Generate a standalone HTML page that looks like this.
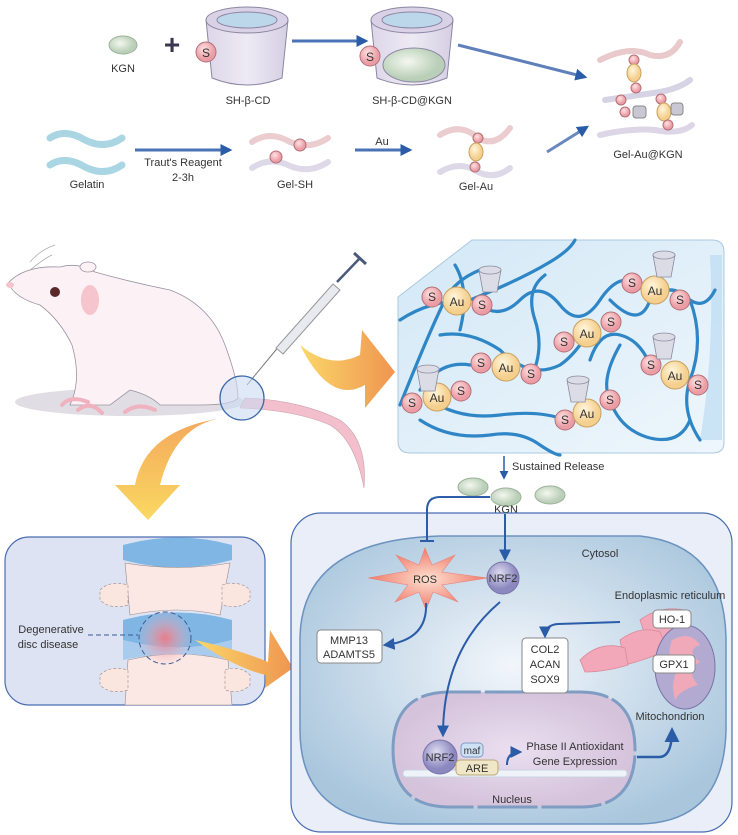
<!DOCTYPE html>
<html><head><meta charset="utf-8"><style>
html,body{margin:0;padding:0;background:#fff;}
svg{display:block;font-family:"Liberation Sans",Arial,sans-serif;}
</style></head><body>
<svg width="738" height="835" viewBox="0 0 738 835" xmlns="http://www.w3.org/2000/svg">
<defs>
<linearGradient id="cup" x1="0" x2="1"><stop offset="0" stop-color="#dcd6e8"/><stop offset="0.5" stop-color="#eeeaf4"/><stop offset="1" stop-color="#d4cfe2"/></linearGradient>
<radialGradient id="kgn" cx="0.4" cy="0.4"><stop offset="0" stop-color="#f4f7ee"/><stop offset="1" stop-color="#b9cfb8"/></radialGradient>
<linearGradient id="gel" x1="0" x2="1" y1="0" y2="1"><stop offset="0" stop-color="#d3e8f6"/><stop offset="1" stop-color="#eef6fc"/></linearGradient>
<linearGradient id="orng" x1="0" x2="1"><stop offset="0" stop-color="#fbd76a"/><stop offset="1" stop-color="#ef9550"/></linearGradient>
<linearGradient id="yel" x1="0" x2="0" y1="0" y2="1"><stop offset="0" stop-color="#f3a85c"/><stop offset="1" stop-color="#fbd862"/></linearGradient>
<radialGradient id="cell" cx="0.5" cy="0.45" r="0.6"><stop offset="0" stop-color="#f2f6fb"/><stop offset="1" stop-color="#a9c6dd"/></radialGradient>
<radialGradient id="nuc" cx="0.5" cy="0.5"><stop offset="0" stop-color="#eadff0"/><stop offset="1" stop-color="#d5c3dc"/></radialGradient>
<radialGradient id="nrf" cx="0.4" cy="0.35"><stop offset="0" stop-color="#dedcf0"/><stop offset="1" stop-color="#8b88c0"/></radialGradient>
<radialGradient id="au" cx="0.4" cy="0.35"><stop offset="0" stop-color="#fff6dc"/><stop offset="1" stop-color="#f5cf8e"/></radialGradient>
<radialGradient id="sc" cx="0.4" cy="0.35"><stop offset="0" stop-color="#fde3e3"/><stop offset="1" stop-color="#ec9ca4"/></radialGradient>
<radialGradient id="ros" cx="0.5" cy="0.5"><stop offset="0" stop-color="#fde0d0"/><stop offset="1" stop-color="#f07a6a"/></radialGradient>
<radialGradient id="disc" cx="0.5" cy="0.5"><stop offset="0" stop-color="#e97c8a"/><stop offset="1" stop-color="#f0b7c0" stop-opacity="0"/></radialGradient>
<marker id="ah" viewBox="0 0 10 10" refX="8" refY="5" markerWidth="6" markerHeight="6" orient="auto"><path d="M0 0L10 5L0 10z" fill="#2a5ca8"/></marker>
<marker id="ah2" viewBox="0 0 10 10" refX="8" refY="5" markerWidth="4" markerHeight="4" orient="auto"><path d="M0 0L10 5L0 10z" fill="#2a5ca8"/></marker>
</defs>

<!-- TOP ROW -->
<ellipse cx="123" cy="45" rx="14" ry="9" fill="url(#kgn)" stroke="#9db39a"/>
<text x="123" y="72" font-size="11" fill="#333" text-anchor="middle">KGN</text>
<text x="172" y="54" font-size="28" font-weight="bold" fill="#3a3550" text-anchor="middle">+</text>
<path d="M206 20 L212 78 Q247 92 282 78 L288 20 Z" fill="url(#cup)" stroke="#8c86a4"/>
<ellipse cx="247" cy="20" rx="41" ry="13" fill="#d9d2e6" stroke="#8c86a4"/>
<ellipse cx="247" cy="20" rx="30" ry="8" fill="#bcd6ea" stroke="#8c86a4"/>
<circle cx="206" cy="52" r="10" fill="url(#sc)" stroke="#b27078"/>
<text x="206" y="57" font-size="12" fill="#333" text-anchor="middle">S</text>
<text x="248" y="104" font-size="11" fill="#333" text-anchor="middle">SH-β-CD</text>
<line x1="292" y1="41" x2="366" y2="41" stroke="#4a73b5" stroke-width="3" marker-end="url(#ah2)"/>
<path d="M371 20 L377 78 Q412 92 447 78 L453 20 Z" fill="url(#cup)" stroke="#8c86a4"/>
<ellipse cx="412" cy="20" rx="41" ry="13" fill="#d9d2e6" stroke="#8c86a4"/>
<ellipse cx="412" cy="20" rx="30" ry="8" fill="#bcd6ea" stroke="#8c86a4"/>
<ellipse cx="414" cy="65" rx="31" ry="17" fill="url(#kgn)" stroke="#8c86a4"/>
<circle cx="370" cy="56" r="10" fill="url(#sc)" stroke="#b27078"/>
<text x="370" y="61" font-size="12" fill="#333" text-anchor="middle">S</text>
<text x="412" y="104" font-size="11" fill="#333" text-anchor="middle">SH-β-CD@KGN</text>
<line x1="458" y1="45" x2="585" y2="77" stroke="#5f80bb" stroke-width="3" marker-end="url(#ah2)"/>
<g stroke-linecap="round" fill="none">
<path d="M600 60 Q630 45 650 55 Q670 60 680 42" stroke="#e9c9cc" stroke-width="6"/>
<path d="M605 100 Q640 95 660 92 Q680 88 690 80" stroke="#d6d4e4" stroke-width="6"/>
<path d="M600 135 Q630 128 655 130 Q680 135 692 125" stroke="#dcd6e6" stroke-width="6"/>
</g>
<circle cx="634" cy="60" r="5" fill="url(#sc)" stroke="#b27078"/>
<ellipse cx="634" cy="73" rx="7" ry="9" fill="url(#au)" stroke="#c9a060"/>
<circle cx="636" cy="88" r="5" fill="url(#sc)" stroke="#b27078"/>
<circle cx="621" cy="100" r="5" fill="url(#sc)" stroke="#b27078"/>
<circle cx="625" cy="112" r="5" fill="url(#sc)" stroke="#b27078"/>
<circle cx="661" cy="99" r="5" fill="url(#sc)" stroke="#b27078"/>
<ellipse cx="664" cy="112" rx="7" ry="9" fill="url(#au)" stroke="#c9a060"/>
<circle cx="668" cy="125" r="5" fill="url(#sc)" stroke="#b27078"/>
<rect x="633" y="106" width="13" height="12" rx="3" fill="#c9c7d2" stroke="#888"/>
<rect x="671" y="103" width="12" height="12" rx="3" fill="#c9c7d2" stroke="#888"/>
<text x="648" y="158" font-size="11" fill="#333" text-anchor="middle">Gel-Au@KGN</text>

<g fill="none" stroke-linecap="round">
<path d="M50 138 Q65 128 85 140 Q105 150 122 138" stroke="#a9d6e2" stroke-width="7"/>
<path d="M50 165 Q65 155 85 167 Q105 177 122 165" stroke="#a9d6e2" stroke-width="7"/>
</g>
<text x="87" y="188" font-size="11" fill="#333" text-anchor="middle">Gelatin</text>
<line x1="135" y1="150" x2="230" y2="150" stroke="#4a73b5" stroke-width="3" marker-end="url(#ah2)"/>
<text x="183" y="166" font-size="11" fill="#333" text-anchor="middle">Traut's Reagent</text>
<text x="183" y="181" font-size="11" fill="#333" text-anchor="middle">2-3h</text>
<g fill="none" stroke-linecap="round">
<path d="M252 142 Q270 130 290 142 Q310 150 328 138" stroke="#ebcdd0" stroke-width="6"/>
<path d="M252 168 Q270 156 290 166 Q310 174 328 162" stroke="#ddd9e8" stroke-width="6"/>
</g>
<circle cx="300" cy="145" r="6" fill="url(#sc)" stroke="#b27078"/>
<circle cx="276" cy="157" r="6" fill="url(#sc)" stroke="#b27078"/>
<text x="295" y="188" font-size="11" fill="#333" text-anchor="middle">Gel-SH</text>
<line x1="355" y1="150" x2="410" y2="150" stroke="#4a73b5" stroke-width="3" marker-end="url(#ah2)"/>
<text x="382" y="145" font-size="11" fill="#333" text-anchor="middle">Au</text>
<g fill="none" stroke-linecap="round">
<path d="M440 135 Q460 122 478 138 Q495 148 510 128" stroke="#ebcdd0" stroke-width="6"/>
<path d="M440 172 Q460 160 478 172 Q495 180 510 168" stroke="#ddd9e8" stroke-width="6"/>
</g>
<circle cx="478" cy="138" r="5" fill="url(#sc)" stroke="#b27078"/>
<ellipse cx="476" cy="152" rx="7" ry="9" fill="url(#au)" stroke="#c9a060"/>
<circle cx="475" cy="167" r="5" fill="url(#sc)" stroke="#b27078"/>
<text x="476" y="190" font-size="11" fill="#333" text-anchor="middle">Gel-Au</text>
<line x1="547" y1="152" x2="587" y2="127" stroke="#6a88c0" stroke-width="3" marker-end="url(#ah2)"/>

<!-- MOUSE -->
<ellipse cx="130" cy="402" rx="115" ry="14" fill="#d8d6dd" opacity="0.8"/>
<path d="M245 398 Q300 400 340 420 Q368 440 364 488 Q355 440 330 425 Q295 410 240 408 Z" fill="#f3bfcc" stroke="#c9a0ab" stroke-width="0.6"/>
<path d="M8 283 Q25 265 60 267 Q78 262 95 272 Q130 282 170 290 Q210 305 225 345 Q238 380 238 398 Q232 405 200 405 L160 405 Q150 395 130 390 L110 405 L70 405 Q82 380 72 345 Q60 320 40 305 Q15 298 8 283 Z" fill="#fcf1f4" stroke="#9a93a3" stroke-width="0.8"/>
<ellipse cx="90" cy="300" rx="9" ry="15" fill="#f6c4cc"/>
<ellipse cx="88" cy="267" rx="8" ry="5" fill="#fcf1f4" stroke="#9a93a3" stroke-width="0.8"/>
<ellipse cx="10" cy="285" rx="4" ry="3" fill="#f6c4cc"/>
<ellipse cx="55" cy="292" rx="5" ry="5" fill="#5a2a2a"/>
<path d="M62 405 Q70 395 88 402 M125 412 Q138 402 155 410 M78 410 Q90 400 102 413" stroke="#f1b2c0" stroke-width="4" fill="none" stroke-linecap="round"/>
<path d="M30 262 Q40 250 55 245 M30 270 Q45 258 52 255" stroke="#aaa" stroke-width="0.7" fill="none"/>
<line x1="247" y1="385" x2="280" y2="345" stroke="#777" stroke-width="1"/>
<path d="M276 348 L333 284 L340 290 L283 354 Z" fill="#e9e9f0" stroke="#999"/>
<line x1="337" y1="282" x2="360" y2="258" stroke="#4a5a7a" stroke-width="2.5"/>
<line x1="354" y1="253" x2="366" y2="264" stroke="#4a5a7a" stroke-width="3"/>
<circle cx="242" cy="398" r="22" fill="#c9dbf1" fill-opacity="0.6" stroke="#3c6aac" stroke-width="1.3"/>
<path d="M300 345 Q330 370 360 355 L362 330 L395 372 L365 408 L365 385 Q330 405 300 345 Z" fill="url(#orng)"/>
<path d="M222 418 Q175 425 160 485 L180 485 L148 520 L115 485 L135 485 Q145 430 222 418 Z" fill="url(#yel)"/>

<!-- HYDROGEL -->
<path d="M398 297 L472 240 L712 240 Q724 240 724 252 L724 443 Q724 453 712 453 L410 453 Q398 453 398 441 Z" fill="url(#gel)" stroke="#a9c8e0"/>
<path d="M710 255 L722 255 L722 440 L700 440 Q715 350 710 255Z" fill="#bcdcf2" opacity="0.7"/>
<g fill="none" stroke="#2f86c6" stroke-width="3.2" stroke-linecap="round">
<path d="M400 320 Q430 300 470 300 Q520 280 550 262 Q570 250 575 240"/>
<path d="M400 405 Q430 330 445 300 Q455 280 480 270"/>
<path d="M480 305 Q500 320 520 300 Q540 280 560 305 Q580 330 600 300 Q620 270 640 285"/>
<path d="M440 335 Q470 330 500 350 Q530 380 560 365 Q575 355 590 330"/>
<path d="M420 390 Q440 360 470 365"/>
<path d="M430 400 Q460 420 500 415 Q540 410 565 420"/>
<path d="M420 420 Q450 440 490 435 Q520 430 540 445 Q555 455 560 455"/>
<path d="M610 300 Q640 330 650 300 Q670 280 690 300 Q705 310 715 290"/>
<path d="M590 360 Q600 330 620 335 Q640 340 650 365"/>
<path d="M610 400 Q620 430 650 438 Q680 445 690 420"/>
<path d="M690 300 Q705 340 690 380 Q680 410 700 440"/>
<path d="M530 380 Q545 350 535 320 Q525 290 545 275"/>
<path d="M455 265 Q470 290 460 330"/>
<path d="M620 345 Q600 380 610 400"/>
</g>
<g font-size="12" fill="#333" text-anchor="middle">
<g><circle cx="432" cy="297" r="10" fill="url(#sc)" stroke="#b27078"/><text x="432" y="301">S</text><circle cx="457" cy="301" r="14" fill="url(#au)" stroke="#c9a060"/><text x="457" y="306">Au</text><circle cx="482" cy="305" r="10" fill="url(#sc)" stroke="#b27078"/><text x="482" y="309">S</text></g>
<g><circle cx="564" cy="342" r="10" fill="url(#sc)" stroke="#b27078"/><text x="564" y="346">S</text><circle cx="587" cy="333" r="14" fill="url(#au)" stroke="#c9a060"/><text x="587" y="338">Au</text><circle cx="611" cy="322" r="10" fill="url(#sc)" stroke="#b27078"/><text x="611" y="326">S</text></g>
<g><circle cx="632" cy="283" r="10" fill="url(#sc)" stroke="#b27078"/><text x="632" y="287">S</text><circle cx="655" cy="290" r="14" fill="url(#au)" stroke="#c9a060"/><text x="655" y="295">Au</text><circle cx="680" cy="300" r="10" fill="url(#sc)" stroke="#b27078"/><text x="680" y="304">S</text></g>
<g><circle cx="481" cy="363" r="10" fill="url(#sc)" stroke="#b27078"/><text x="481" y="367">S</text><circle cx="506" cy="367" r="14" fill="url(#au)" stroke="#c9a060"/><text x="506" y="372">Au</text><circle cx="531" cy="374" r="10" fill="url(#sc)" stroke="#b27078"/><text x="531" y="378">S</text></g>
<g><circle cx="412" cy="403" r="10" fill="url(#sc)" stroke="#b27078"/><text x="412" y="407">S</text><circle cx="437" cy="397" r="14" fill="url(#au)" stroke="#c9a060"/><text x="437" y="402">Au</text><circle cx="461" cy="391" r="10" fill="url(#sc)" stroke="#b27078"/><text x="461" y="395">S</text></g>
<g><circle cx="565" cy="420" r="10" fill="url(#sc)" stroke="#b27078"/><text x="565" y="424">S</text><circle cx="587" cy="413" r="14" fill="url(#au)" stroke="#c9a060"/><text x="587" y="418">Au</text><circle cx="610" cy="400" r="10" fill="url(#sc)" stroke="#b27078"/><text x="610" y="404">S</text></g>
<g><circle cx="651" cy="365" r="10" fill="url(#sc)" stroke="#b27078"/><text x="651" y="369">S</text><circle cx="675" cy="375" r="14" fill="url(#au)" stroke="#c9a060"/><text x="675" y="380">Au</text><circle cx="698" cy="385" r="10" fill="url(#sc)" stroke="#b27078"/><text x="698" y="389">S</text></g>
</g>
<g fill="#dcdce6" stroke="#8c8aa0" stroke-width="0.8">
<path d="M479 270 L483 292 L497 292 L501 270 Z"/><ellipse cx="490" cy="270" rx="11" ry="4"/>
<path d="M653 255 L657 277 L671 277 L675 255 Z"/><ellipse cx="664" cy="255" rx="11" ry="4"/>
<path d="M653 337 L657 359 L671 359 L675 337 Z"/><ellipse cx="664" cy="337" rx="11" ry="4"/>
<path d="M417 369 L421 391 L435 391 L439 369 Z"/><ellipse cx="428" cy="369" rx="11" ry="4"/>
<path d="M567 380 L571 402 L585 402 L589 380 Z"/><ellipse cx="578" cy="380" rx="11" ry="4"/>
</g>
<line x1="504" y1="456" x2="504" y2="478" stroke="#2a5ca8" stroke-width="1.5" marker-end="url(#ah)"/>
<text x="512" y="470" font-size="11" fill="#333">Sustained Release</text>
<ellipse cx="473" cy="487" rx="15" ry="9" fill="url(#kgn)" stroke="#9db39a"/>
<ellipse cx="506" cy="497" rx="15" ry="9" fill="url(#kgn)" stroke="#9db39a"/>
<ellipse cx="550" cy="495" rx="15" ry="9" fill="url(#kgn)" stroke="#9db39a"/>
<text x="506" y="513" font-size="11" fill="#333" text-anchor="middle">KGN</text>

<!-- DISC BOX -->
<rect x="5" y="537" width="260" height="168" rx="24" fill="#dde3f3" stroke="#4a6db0" stroke-width="1.2"/>
<path d="M123 545 Q178 530 232 545 L232 560 Q178 575 123 560 Z" fill="#7fb6e4"/>
<path d="M125 563 Q178 572 230 563 L220 615 Q178 605 130 615 Z" fill="#fbe8e4" stroke="#9a8a8a" stroke-width="0.6"/>
<path d="M100 590 Q110 580 128 585 L128 605 Q110 610 100 600 Z M222 585 Q240 580 250 590 L250 600 Q240 610 222 605 Z" fill="#fbe5df" stroke="#9a8a8a" stroke-width="0.6" stroke-dasharray="3 2"/>
<path d="M123 620 Q178 605 232 620 L232 640 Q178 655 123 640 Z" fill="#7fb6e4"/>
<path d="M128 660 Q178 648 228 660 L232 705 L125 705 Z" fill="#fbe8e4" stroke="#9a8a8a" stroke-width="0.6"/>
<path d="M100 675 Q110 665 128 670 L128 690 Q110 695 100 685 Z M225 670 Q240 665 250 675 L250 685 Q240 695 225 690 Z" fill="#fbe5df" stroke="#9a8a8a" stroke-width="0.6" stroke-dasharray="3 2"/>
<path d="M123 640 Q178 655 232 640 L232 660 Q178 648 123 660 Z" fill="#a9cbed"/>
<circle cx="165" cy="638" r="28" fill="url(#disc)"/>
<circle cx="165" cy="638" r="26" fill="none" stroke="#3c5a90" stroke-width="1" stroke-dasharray="5 3"/>
<text x="51" y="633" font-size="11" fill="#333" text-anchor="middle">Degenerative</text>
<text x="48" y="648" font-size="11" fill="#333" text-anchor="middle">disc disease</text>
<line x1="88" y1="635" x2="138" y2="635" stroke="#3c5a90" stroke-dasharray="5 3"/>
<path d="M195 640 Q240 650 268 662 L270 630 L293 668 L265 688 L266 675 Q235 668 195 640 Z" fill="url(#orng)"/>

<!-- CELL -->
<rect x="291" y="513" width="441" height="319" rx="30" fill="#e9eef8" stroke="#4a6db0" stroke-width="1.2"/>
<path d="M300 640 Q300 540 440 536 L640 536 Q725 545 726 640 L726 730 Q724 822 640 824 L400 824 Q300 820 300 730 Z" fill="url(#cell)" stroke="#6c93bf" stroke-width="1.5"/>
<path d="M393 750 Q393 692 450 692 L580 692 Q635 692 635 750 Q635 807 580 807 L450 807 Q393 807 393 750 Z" fill="url(#nuc)" stroke="#7f9cc2" stroke-width="3" stroke-dasharray="60 4"/>
<rect x="403" y="770" width="224" height="7" rx="3" fill="#eef3fa" stroke="#c9d3e0"/>
<text x="512" y="803" font-size="11" fill="#333" text-anchor="middle">Nucleus</text>
<text x="600" y="557" font-size="11" fill="#333" text-anchor="middle">Cytosol</text>
<text x="670" y="599" font-size="11" fill="#333" text-anchor="middle">Endoplasmic reticulum</text>
<g fill="#f2a8b8" stroke="#d98a9c" stroke-width="0.8">
<path d="M640 620 Q660 605 685 610 L690 630 Q670 640 650 650 Z"/>
<path d="M620 640 Q640 625 660 632 L668 650 Q645 660 625 665 Z"/>
<path d="M580 660 Q600 640 625 648 L628 665 Q605 672 585 672 Z"/>
</g>
<ellipse cx="685" cy="667" rx="30" ry="42" fill="#b3aad2" stroke="#7a73a6"/>
<path d="M672 640 Q690 630 700 645 Q685 650 700 662 Q685 670 698 685 Q680 690 675 700 Q670 680 678 670 Q665 660 672 640 Z" fill="#f0a9b8"/>
<rect x="653" y="610" width="38" height="18" rx="4" fill="#fff" stroke="#888"/>
<text x="672" y="623" font-size="11" fill="#333" text-anchor="middle">HO-1</text>
<rect x="653" y="655" width="42" height="18" rx="4" fill="#fff" stroke="#888"/>
<text x="674" y="668" font-size="11" fill="#333" text-anchor="middle">GPX1</text>
<text x="670" y="720" font-size="11" fill="#333" text-anchor="middle">Mitochondrion</text>
<rect x="522" y="638" width="46" height="55" rx="4" fill="#fff" stroke="#888"/>
<text x="545" y="653" font-size="11" fill="#333" text-anchor="middle">COL2</text>
<text x="545" y="668" font-size="11" fill="#333" text-anchor="middle">ACAN</text>
<text x="545" y="683" font-size="11" fill="#333" text-anchor="middle">SOX9</text>
<rect x="317" y="630" width="65" height="33" rx="4" fill="#fff" stroke="#888"/>
<text x="349" y="644" font-size="11" fill="#333" text-anchor="middle">MMP13</text>
<text x="349" y="658" font-size="11" fill="#333" text-anchor="middle">ADAMTS5</text>
<path d="M425 548 L432 565 L455 555 L442 572 L488 578 L442 585 L458 602 L433 592 L426 610 L419 592 L395 602 L408 585 L368 578 L408 571 L396 555 L419 565 Z" fill="url(#ros)" stroke="#e8827a" stroke-width="0.6"/>
<text x="425" y="583" font-size="11" fill="#333" text-anchor="middle">ROS</text>
<circle cx="503" cy="578" r="16" fill="url(#nrf)" stroke="#7a73a6"/>
<text x="503" y="582" font-size="11" fill="#333" text-anchor="middle">NRF2</text>
<path d="M490 497 L440 497 Q427 497 427 510 L427 540" fill="none" stroke="#2a5ca8" stroke-width="2"/>
<line x1="420" y1="541" x2="434" y2="541" stroke="#2a5ca8" stroke-width="2"/>
<line x1="505" y1="514" x2="505" y2="559" stroke="#2a5ca8" stroke-width="2" marker-end="url(#ah)"/>
<path d="M426 603 Q428 640 385 645" fill="none" stroke="#2a5ca8" stroke-width="2" marker-end="url(#ah)"/>
<path d="M500 602 Q443 650 443 735" fill="none" stroke="#2a5ca8" stroke-width="2" marker-end="url(#ah)"/>
<path d="M620 622 L558 624 Q545 625 545 636" fill="none" stroke="#2a5ca8" stroke-width="2" marker-end="url(#ah)"/>
<path d="M637 757 L660 757 Q672 756 672 730" fill="none" stroke="#2a5ca8" stroke-width="2.5" marker-end="url(#ah)"/>
<path d="M507 765 Q507 752 520 752" fill="none" stroke="#2a5ca8" stroke-width="2" marker-end="url(#ah)"/>
<circle cx="440" cy="757" r="17" fill="url(#nrf)" stroke="#7a73a6"/>
<text x="440" y="761" font-size="11" fill="#333" text-anchor="middle">NRF2</text>
<rect x="461" y="743" width="22" height="14" rx="4" fill="#cfe1f4" stroke="#7f9cc2"/>
<text x="472" y="754" font-size="10" fill="#333" text-anchor="middle">maf</text>
<rect x="456" y="760" width="42" height="15" rx="4" fill="#f0e6c8" stroke="#b8a878"/>
<text x="477" y="772" font-size="11" fill="#333" text-anchor="middle">ARE</text>
<text x="575" y="750" font-size="11" fill="#333" text-anchor="middle">Phase II Antioxidant</text>
<text x="575" y="765" font-size="11" fill="#333" text-anchor="middle">Gene Expression</text>
</svg>
</body></html>
